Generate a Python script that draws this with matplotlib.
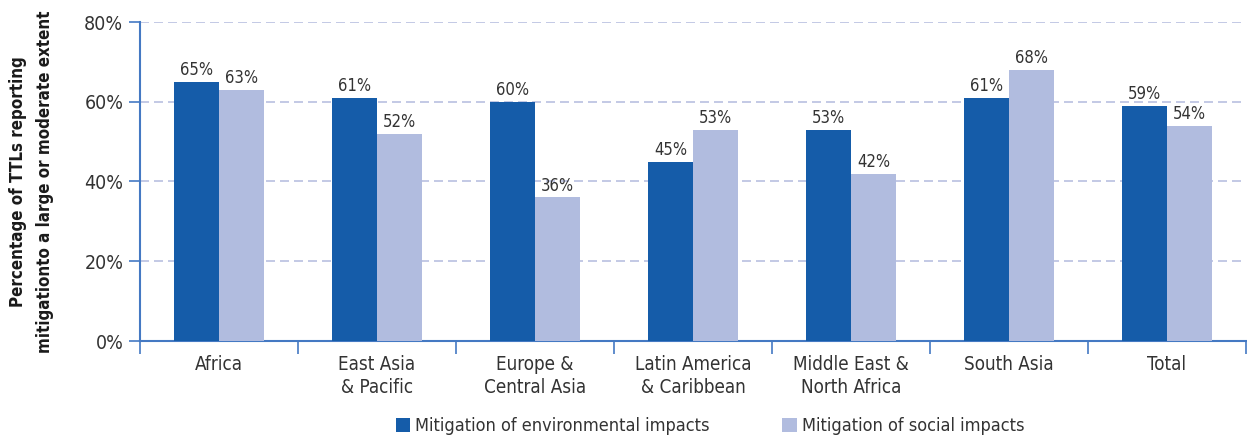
import matplotlib.pyplot as plt
import numpy as np

plt.rcParams["font.family"] = ["DejaVu Sans"]
plt.rcParams["font.stretch"] = "condensed"

categories = ["Africa", "East Asia\n& Pacific", "Europe &\nCentral Asia",
              "Latin America\n& Caribbean", "Middle East &\nNorth Africa",
              "South Asia", "Total"]
environmental = [65, 61, 60, 45, 53, 61, 59]
social = [63, 52, 36, 53, 42, 68, 54]
series_names = ["Mitigation of environmental impacts", "Mitigation of social impacts"]

DARK = "#155ca9"
LIGHT = "#b1bcdf"
SPINE = "#4479c3"
GRID = "#b9c0e0"
TEXT = "#333333"


def main():
    fig = plt.figure(figsize=(12.47, 4.36), dpi=100)
    ax = fig.add_axes([140 / 1247, 95 / 436, 1106 / 1247, 319 / 436])

    x = np.arange(len(categories))
    w = 0.286
    b1 = ax.bar(x - w / 2, environmental, w, color=DARK, label=series_names[0], zorder=3)
    b2 = ax.bar(x + w / 2, social, w, color=LIGHT, label=series_names[1], zorder=3)

    for bars, vals in ((b1, environmental), (b2, social)):
        for rect, v in zip(bars, vals):
            ax.text(rect.get_x() + rect.get_width() / 2, v + 0.6, f"{v}%",
                    ha="center", va="bottom", fontsize=12, color=TEXT, zorder=4)

    ax.set_xlim(-0.5, 6.45)
    ax.set_ylim(0, 80)
    ax.set_yticks([0, 20, 40, 60, 80])
    ax.set_yticklabels([f"{t}%" for t in [0, 20, 40, 60, 80]], fontsize=14, color=TEXT)
    ax.set_xticks(x)
    ax.set_xticklabels(categories, fontsize=13.5, color=TEXT, linespacing=1.25)
    ax.set_xticks(np.arange(-0.5, len(categories), 1), minor=True)
    ax.tick_params(axis="x", which="major", length=0, pad=10)
    ax.tick_params(axis="x", which="minor", length=9, color=SPINE, width=1.2)
    ax.tick_params(axis="y", length=8, color=SPINE, width=1.2, pad=4)

    for t in [20, 40, 60, 80]:
        ax.axhline(t, color=GRID, lw=1.2, dashes=(5.4, 3.0), zorder=1)

    for s in ["top", "right"]:
        ax.spines[s].set_visible(False)
    for s in ["left", "bottom"]:
        ax.spines[s].set_color(SPINE)
        ax.spines[s].set_linewidth(1.5)

    ax.set_ylabel("Percentage of TTLs reporting\nmitigationto a large or moderate extent",
                  fontsize=12.2, fontweight="bold", color="#1a1a1a", labelpad=22,
                  linespacing=1.6)

    leg = fig.legend(handles=[b1, b2], loc="center", bbox_to_anchor=(710 / 1247, 10 / 436),
                     ncol=2, frameon=False, fontsize=13, handlelength=0.8, handleheight=0.8,
                     handletextpad=0.3, columnspacing=4.0, borderaxespad=0)
    for t in leg.get_texts():
        t.set_color(TEXT)

    fig.savefig("out.png", dpi=100)


if __name__ == "__main__":
    main()
